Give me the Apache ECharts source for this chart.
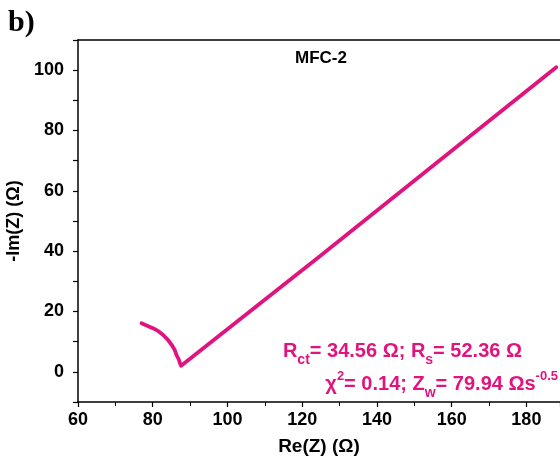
<!DOCTYPE html>
<html>
<head>
<meta charset="utf-8">
<script src="https://cdn.jsdelivr.net/npm/echarts@6/dist/echarts.min.js"></script>
<style>html,body{margin:0;padding:0;background:#fff}#c{width:560px;height:460px}</style>
</head>
<body>
<div id="c"></div>
<script>
// Nyquist data
var reZ = [77.0, 78.5, 80.2, 81.6, 82.8, 84.0, 85.1, 85.9, 86.4, 87.0, 87.3, 87.6, 87.8, 124.3, 156.0, 188.0];
var negImZ = [16.1, 15.3, 14.4, 13.4, 12.2, 10.7, 8.9, 7.2, 5.5, 4.0, 2.8, 2.0, 1.5, 37.9, 69.3, 101.0];
var xTicks = [60, 80, 100, 120, 140, 160, 180];
var yTicks = [0, 20, 40, 60, 80, 100];
var panelLabel = 'b)';
var sampleName = 'MFC-2';

var pts = reZ.map(function (x, i) { return [x, negImZ[i]]; });
var chart = echarts.init(document.getElementById('c'), null, {renderer: 'canvas'});
var lineColor = '#e0147e';
var sans = 'Arial, "Liberation Sans", sans-serif';
var tickFont = {color: '#000', fontFamily: sans, fontWeight: 'bold', fontSize: 18};
chart.setOption({
  animation: false,
  backgroundColor: '#fff',
  grid: {left: 78, top: 40, right: 0, bottom: 58, containLabel: false, outerBoundsMode: 'none'},
  xAxis: [{
    type: 'value', min: 60, max: 189, interval: 20,
    position: 'bottom',
    axisLine: {show: true, onZero: false, lineStyle: {color: '#000', width: 1.5}},
    axisTick: {show: true, inside: false, length: 5, lineStyle: {color: '#000', width: 1.2}},
    minorTick: {show: true, splitNumber: 2, length: 4, lineStyle: {color: '#000', width: 1}},
    splitLine: {show: false},
    axisLabel: Object.assign({margin: 9, formatter: function (v) { return xTicks.indexOf(v) >= 0 ? String(v) : ''; }}, tickFont),
    name: 'Re(Z) (Ω)', nameLocation: 'middle', nameGap: 35,
    nameTextStyle: Object.assign({}, tickFont, {fontSize: 19})
  }, {
    type: 'value', min: 60, max: 189, position: 'top',
    axisLine: {show: true, onZero: false, lineStyle: {color: '#000', width: 1.5}},
    axisTick: {show: false}, axisLabel: {show: false}, splitLine: {show: false}
  }],
  yAxis: {
    type: 'value', min: -10, max: 110, interval: 10,
    axisLine: {show: true, onZero: false, lineStyle: {color: '#000', width: 1.5}},
    axisTick: {show: true, inside: false, length: 5, lineStyle: {color: '#000', width: 1.2}},
    splitLine: {show: false},
    axisLabel: Object.assign({margin: 14, formatter: function (v) { return yTicks.indexOf(v) >= 0 ? String(v) : ''; }}, tickFont),
    name: '-Im(Z) (Ω)', nameLocation: 'middle', nameGap: 46, nameRotate: 90,
    nameTextStyle: Object.assign({}, tickFont, {fontSize: 18})
  },
  series: [{
    type: 'line', data: pts, xAxisIndex: 0, showSymbol: false, smooth: false,
    lineStyle: {color: lineColor, width: 3.8, cap: 'round', join: 'round'},
    itemStyle: {color: lineColor}
  }],
  graphic: [
    {type: 'text', left: 8, top: 8, style: {text: panelLabel, font: 'bold 30px "Liberation Serif", "Times New Roman", serif', fill: '#000'}},
    {type: 'text', x: 321, y: 58, style: {text: sampleName, font: 'bold 17px ' + sans, fill: '#000', align: 'center', verticalAlign: 'middle'}},
    {type: 'text', right: 38, top: 341, style: {
      text: '{m|R}{s|ct}{m|= 34.56 Ω; R}{s|s}{m|= 52.36 Ω}',
      rich: {
        m: {font: 'bold 20px ' + sans, fill: lineColor, verticalAlign: 'bottom', lineHeight: 24},
        s: {font: 'bold 14px ' + sans, fill: lineColor, verticalAlign: 'bottom', padding: [0, 0, -6, 0], lineHeight: 24}
      }
    }},
    {type: 'text', right: 2, top: 370, style: {
      text: '{m|χ}{p|2}{m|= 0.14; Z}{s|w}{m|= 79.94 Ωs}{p|-0.5}',
      rich: {
        m: {font: 'bold 20px ' + sans, fill: lineColor, verticalAlign: 'bottom', lineHeight: 24},
        s: {font: 'bold 14px ' + sans, fill: lineColor, verticalAlign: 'bottom', padding: [0, 0, -6, 0], lineHeight: 24},
        p: {font: 'bold 13px ' + sans, fill: lineColor, verticalAlign: 'top', padding: [0, 0, 10, 0], lineHeight: 24}
      }
    }}
  ]
});
</script>
</body>
</html>
